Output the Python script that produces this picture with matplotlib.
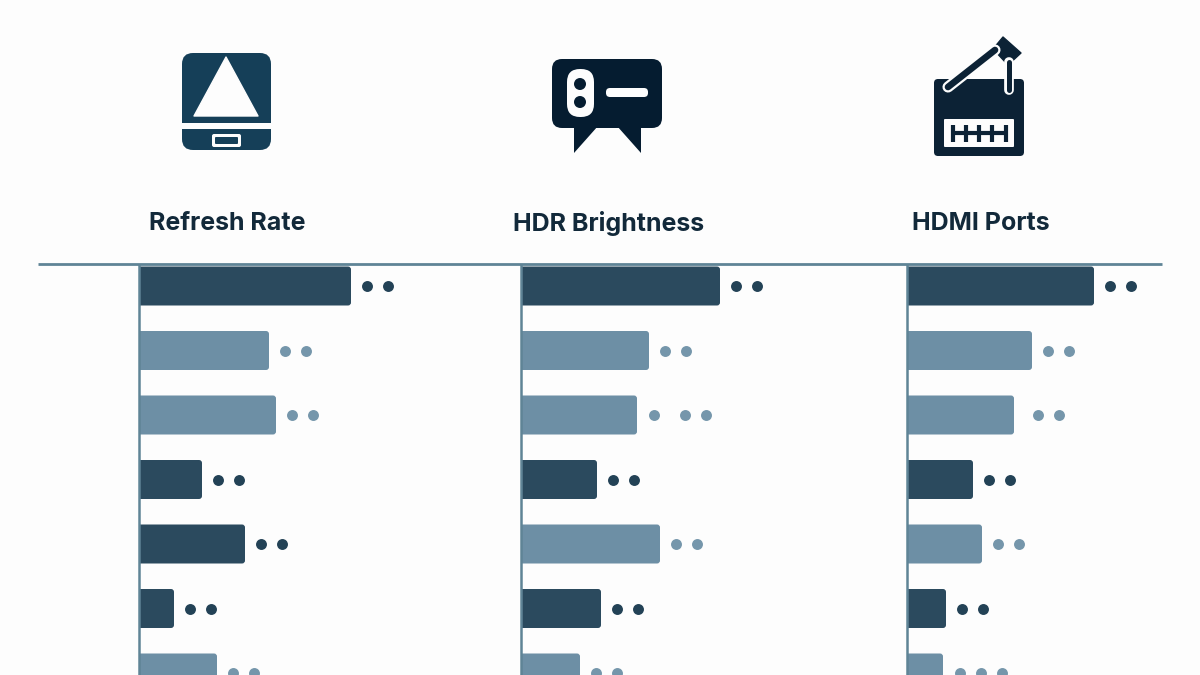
import matplotlib
matplotlib.use("Agg")
import matplotlib.pyplot as plt
from matplotlib.patches import FancyBboxPatch, Polygon, Circle, Rectangle

# Data
titles = ["Refresh Rate", "HDR Brightness", "HDMI Ports"]
refresh_values = [212, 130, 137, 63, 106, 35, 78]
hdr_values = [199, 128, 116, 76, 139, 80, 59]
hdmi_values = [187, 125, 107, 66, 75, 39, 36]
refresh_tones = ["d", "l", "l", "d", "d", "d", "l"]
hdr_tones = ["d", "l", "l", "d", "l", "d", "l"]
hdmi_tones = ["d", "l", "l", "d", "l", "d", "l"]
refresh_dots = [2, 2, 2, 2, 2, 2, 2]
hdr_dots = [2, 2, 3, 2, 2, 2, 2]
hdmi_dots = [2, 2, 2, 2, 2, 2, 3]

DARK = "#2b4a5e"
LIGHT = "#6d8fa5"
DOT_DARK = "#234256"
DOT_LIGHT = "#7596ab"
RULE = "#5f8496"
TEXT = "#12293a"
BG = "#fdfdfd"
ROW_PX = 64.5

plt.rcParams["font.family"] = ["Inter", "DejaVu Sans"]

fig = plt.figure(figsize=(12, 6.75), dpi=100, facecolor=BG)

# overlay in pixel coords for the rule, icons and headers
bg = fig.add_axes([0, 0, 1, 1])
bg.set_xlim(0, 1200)
bg.set_ylim(675, 0)
bg.axis("off")
bg.plot([38, 1162], [264, 264], color=RULE, lw=2, solid_capstyle="butt")


def rounded(ax, x0, y0, x1, y1, r, color, **kw):
    p = FancyBboxPatch((x0, y0), x1 - x0, y1 - y0, boxstyle=f"round,pad=0,rounding_size={r}",
                       fc=color, ec="none", **kw)
    ax.add_patch(p)
    return p


def icon_refresh(ax):
    c = "#153f58"
    rounded(ax, 182, 53, 271, 150, 11, c)
    ax.add_patch(Rectangle((180, 123), 93, 6, fc=BG, ec="none"))
    ax.add_patch(Polygon([(226, 57), (194, 116), (258, 116)], fc=BG, ec=BG, lw=1, joinstyle="round"))
    rounded(ax, 212, 134, 241, 147, 2, BG)
    rounded(ax, 215, 137, 238, 144, 1, c)


def icon_hdr(ax):
    c = "#051c30"
    rounded(ax, 552, 59, 662, 128, 10, c)
    ax.add_patch(Polygon([(574, 126), (574, 153), (598, 126)], fc=c, ec="none"))
    ax.add_patch(Polygon([(617, 126), (641, 153), (641, 126)], fc=c, ec="none"))
    rounded(ax, 567, 69, 594, 117, 13, BG)
    ax.add_patch(Circle((580, 84), 6, fc=c, ec="none"))
    ax.add_patch(Circle((580, 102), 6, fc=c, ec="none"))
    rounded(ax, 606, 88, 648, 97, 4, BG)


def icon_hdmi(ax):
    c = "#0c2235"
    rounded(ax, 934, 79, 1024, 156, 4, c)
    rounded(ax, 944, 119, 1014, 147, 1, BG)
    # arm and pendant, white halo only shows where they cross the body
    ax.plot([948, 995], [87, 50], color=BG, lw=8, solid_capstyle="round")
    ax.plot([1009, 1009], [62, 90], color=BG, lw=7, solid_capstyle="round")
    ax.add_patch(Rectangle((930, 60), 100, 19, fc=BG, ec="none"))
    ax.plot([948, 995], [87, 50], color=c, lw=4.8, solid_capstyle="round")
    ax.plot([1009, 1009], [62, 90], color=c, lw=3.6, solid_capstyle="round")
    ax.add_patch(Polygon([(1003, 37), (1021, 53), (1008, 65), (993, 49)], fc=c, ec=c, lw=1, joinstyle="round"))
    # connector pins
    ax.plot([952, 1006], [133, 133], color=c, lw=3, solid_capstyle="butt")
    for x in [953, 966, 979, 992, 1006]:
        ax.plot([x, x], [125, 142], color=c, lw=3, solid_capstyle="butt")


icon_refresh(bg)
icon_hdr(bg)
icon_hdmi(bg)

for title, x in zip(titles, [227, 609, 981]):
    bg.text(x, 223, title, ha="center", va="center", fontsize=18, fontweight="bold", color=TEXT)


def panel(left, values, tones, dots, gaps):
    ax = fig.add_axes([left / 1200, 0, 300 / 1200, 410 / 675])
    ax.patch.set_alpha(0)
    ax.set_xlim(0, 300)
    ax.set_ylim((675 - 286) / ROW_PX, (265 - 286) / ROW_PX)
    for name in ["top", "right", "bottom"]:
        ax.spines[name].set_visible(False)
    ax.spines["left"].set_color(RULE)
    ax.spines["left"].set_linewidth(1.8)
    ax.spines["left"].set_zorder(5)
    ax.set_xticks([])
    ax.set_yticks([])
    h = 39 / ROW_PX
    for i, (v, t, n) in enumerate(zip(values, tones, dots)):
        p = FancyBboxPatch((-6, i - h / 2), v + 6, h, boxstyle="round,pad=0,rounding_size=3",
                           mutation_aspect=1 / ROW_PX, fc=DARK if t == "d" else LIGHT, ec="none")
        ax.add_patch(p)
        offs = gaps.get(i, [16, 37][:n])
        ax.scatter([v + o for o in offs], [i] * len(offs), s=62, linewidths=0,
                   color=DOT_DARK if t == "d" else DOT_LIGHT, zorder=3)
    return ax


panel(139, refresh_values, refresh_tones, refresh_dots, {})
panel(521, hdr_values, hdr_tones, hdr_dots, {2: [17, 48, 69]})
panel(907, hdmi_values, hdmi_tones, hdmi_dots, {2: [24, 45], 6: [17, 38, 59]})

fig.savefig("out.png", dpi=100, facecolor=BG)
